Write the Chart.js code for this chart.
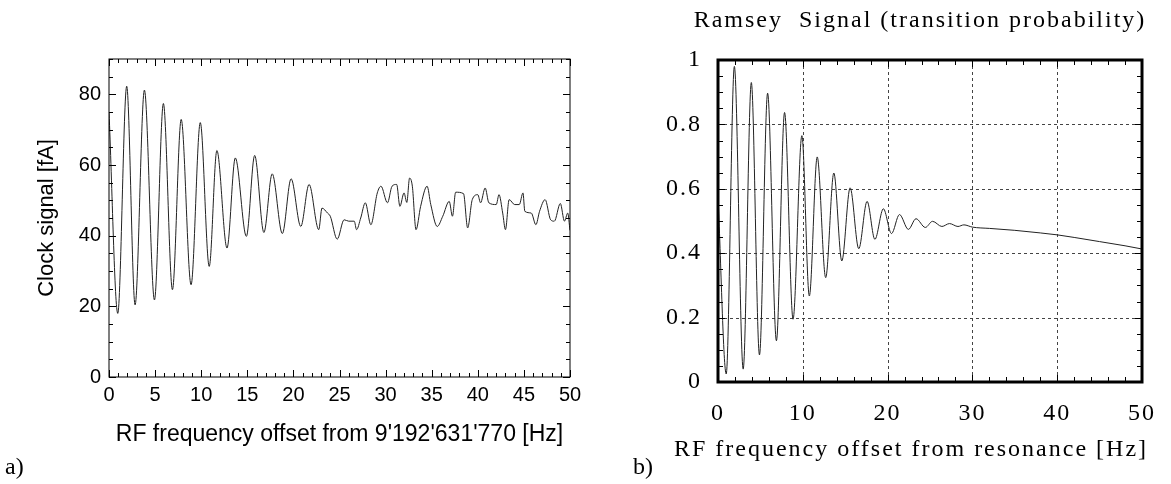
<!DOCTYPE html>
<html><head><meta charset="utf-8">
<script src="https://cdn.jsdelivr.net/npm/chart.js@4.4.1/dist/chart.umd.min.js"></script>
<style>
html,body{margin:0;padding:0;background:#fff;}
#wrap{position:relative;width:1171px;height:484px;overflow:hidden;}
.box{position:absolute;top:0;height:484px;}
</style></head><body>
<div id="wrap">
  <div class="box" style="left:0;width:600px"><canvas id="c1"></canvas></div>
  <div class="box" style="left:600px;width:571px"><canvas id="c2"></canvas></div>
</div>
<script>
// ---- Data: (a) measured clock signal ----
const clockX = [0,0.95,1.92,2.83,3.84,4.93,5.9,6.88,7.83,8.9,9.9,10.87,11.7,12.8,13.7,14.9,15.8,16.8,17.7,18.8,19.75,20.8,21.7,22.75,23.1,23.7,24.0,24.75,25.5,26.0,26.6,26.85,27.3,27.8,28.4,29.1,29.5,30.2,30.7,31.2,31.55,32.0,32.3,32.6,32.9,33.3,33.8,34.5,34.9,35.6,36.2,36.9,37.25,37.6,38.45,38.9,39.4,40.0,40.3,40.8,41.2,42.0,42.3,42.7,43.0,43.4,44.0,44.5,44.9,45.1,45.8,46.3,46.7,47.3,47.9,48.3,48.95,49.4,49.75,50];
const clockY = [75,18,82.3,20.4,81.2,21.8,77.4,24.7,72.9,26.1,72,31.3,64.1,36.5,62.0,39.8,62.7,40.9,57.5,40.6,56.1,42.6,54.5,41.7,47.8,46.4,45.5,39,44.5,44.1,44.1,41.7,45,49.3,43.1,52.1,54,49.3,54,54.5,48.3,52.1,49.4,56.3,54,41.7,48.3,54,48.8,42.6,45.5,49.7,45.5,52.3,51.9,42.2,50.2,51.6,49.3,53.5,49.3,48.8,51.6,46.4,41.7,50.2,48.8,48.8,52.1,46.9,46.4,43.1,46.9,50.2,44.5,44.1,49.1,44.1,46.4,41.5];
const clockXTicks = [0,5,10,15,20,25,30,35,40,45,50];
const clockYTicks = [0,20,40,60,80];

// ---- Data: (b) Ramsey signal ----
const ramseyX = [0,0.97,1.93,2.97,3.93,4.89,5.85,6.89,7.85,8.85,9.89,10.77,11.7,12.7,13.66,14.6,15.58,16.6,17.58,18.5,19.5,20.46,21.4,22.45,23.35,24.45,25.3,26.4,27.3,28.3,29.0,30,32,35,38,40,42,45,48,50];
const ramseyY = [0.58,0.025,0.98,0.04,0.93,0.084,0.897,0.128,0.837,0.195,0.765,0.267,0.699,0.324,0.649,0.376,0.603,0.414,0.561,0.443,0.538,0.461,0.52,0.474,0.507,0.48,0.499,0.483,0.492,0.483,0.488,0.481,0.477,0.471,0.463,0.457,0.449,0.436,0.423,0.413];
const ramseyXTicks = [0,10,20,30,40,50];
const ramseyYTicks = [0,0.2,0.4,0.6,0.8,1];
const ramseyYLabels = ['0','0.2','0.4','0.6','0.8','1'];

function range(a,b,s){const r=[];for(let v=a;v<=b+1e-9;v+=s)r.push(Math.round(v*1000)/1000);return r;}

const SANS = "'Liberation Sans', Arial, Helvetica, sans-serif";
const SERIF = "'Liberation Serif', 'Times New Roman', serif";

const framePlugin = {
  id: 'frame',
  beforeDatasetsDraw(chart, args, o) {
    if (!o.grid) return;
    const {ctx, chartArea: a, scales: {x, y}} = chart;
    ctx.save();
    ctx.strokeStyle = '#444'; ctx.lineWidth = 1; ctx.setLineDash([3,3]);
    ctx.beginPath();
    for (const v of o.grid.x) { const p = Math.round(x.getPixelForValue(v)) + 0.5; ctx.moveTo(p, a.top); ctx.lineTo(p, a.bottom); }
    for (const v of o.grid.y) { const p = Math.round(y.getPixelForValue(v)) + 0.5; ctx.moveTo(a.left, p); ctx.lineTo(a.right, p); }
    ctx.stroke();
    ctx.restore();
  },
  afterDatasetsDraw(chart, args, o) {
    const {ctx, chartArea: a, scales: {x, y}} = chart;
    ctx.save();
    ctx.strokeStyle = '#000'; ctx.lineWidth = 1; ctx.setLineDash([]);
    ctx.beginPath();
    for (const v of o.xMinor) {
      const p = Math.round(x.getPixelForValue(v)) + 0.5;
      const L = o.xMajor.some(m => Math.abs(m - v) < 1e-6) ? o.major : o.minor;
      ctx.moveTo(p, a.bottom); ctx.lineTo(p, a.bottom - L);
      ctx.moveTo(p, a.top); ctx.lineTo(p, a.top + L);
    }
    for (const v of o.yMinor) {
      const p = Math.round(y.getPixelForValue(v)) + 0.5;
      const L = o.yMajor.some(m => Math.abs(m - v) < 1e-6) ? o.major : o.minor;
      ctx.moveTo(a.left, p); ctx.lineTo(a.left + L, p);
      ctx.moveTo(a.right, p); ctx.lineTo(a.right - L, p);
    }
    ctx.stroke();
    ctx.lineWidth = o.border;
    ctx.strokeRect(a.left, a.top, a.right - a.left, a.bottom - a.top);
    ctx.restore();
  },
  afterDraw(chart, args, o) {
    const ctx = chart.ctx;
    ctx.save();
    ctx.fillStyle = '#000';
    for (const t of (o.texts || [])) {
      ctx.font = t.font;
      ctx.letterSpacing = t.ls || '0px';
      ctx.textAlign = t.align || 'center';
      ctx.textBaseline = 'middle';
      ctx.fillText(t.text, t.x, t.y);
    }
    ctx.restore();
  }
};

const spacingPlugin = {
  id: 'spacing',
  beforeDraw(chart, args, o) { chart.ctx.letterSpacing = o.ls || '0px'; }
};

// ---- Chart (a) ----
new Chart(document.getElementById('c1'), {
  type: 'line',
  data: { datasets: [{
    data: clockX.map((v, i) => ({x: v, y: clockY[i]})),
    borderColor: '#222', borderWidth: 1, pointRadius: 0,
    cubicInterpolationMode: 'monotone'
  }]},
  options: {
    responsive: true, maintainAspectRatio: false, animation: false,
    layout: { padding: { left: 0, right: 30, top: 59, bottom: 0 } },
    plugins: {
      legend: { display: false }, tooltip: { enabled: false },
      frame: {
        xMajor: clockXTicks, xMinor: range(0, 50, 1),
        yMajor: clockYTicks, yMinor: range(0, 90, 5),
        major: 7, minor: 4, border: 1,
        texts: [{text: 'a)', x: 5, y: 468, font: '24px ' + SERIF, align: 'left'}]
      }
    },
    scales: {
      x: {
        type: 'linear', min: 0, max: 50,
        afterBuildTicks: s => { s.ticks = clockXTicks.map(v => ({value: v})); },
        afterFit: s => { s.height = 107; },
        grid: { display: false, drawTicks: false }, border: { display: false },
        ticks: { color: '#000', font: { family: SANS, size: 20 }, padding: 6, maxRotation: 0, autoSkip: false },
        title: { display: true, text: "RF frequency offset from 9'192'631'770 [Hz]", color: '#000',
                 font: { family: SANS, size: 23 }, padding: { top: 0, bottom: 36 } }
      },
      y: {
        type: 'linear', min: 0, max: 90,
        afterBuildTicks: s => { s.ticks = clockYTicks.map(v => ({value: v})); },
        afterFit: s => { s.width = 109; },
        grid: { display: false, drawTicks: false }, border: { display: false },
        ticks: { color: '#000', font: { family: SANS, size: 20 }, padding: 8 },
        title: { display: true, text: 'Clock signal [fA]', color: '#000',
                 font: { family: SANS, size: 22 }, padding: { top: 34, bottom: 0 } }
      }
    }
  },
  plugins: [framePlugin]
});

// ---- Chart (b) ----
new Chart(document.getElementById('c2'), {
  type: 'line',
  data: { datasets: [{
    data: ramseyX.map((v, i) => ({x: v, y: ramseyY[i]})),
    borderColor: '#222', borderWidth: 1, pointRadius: 0,
    cubicInterpolationMode: 'monotone'
  }]},
  options: {
    responsive: true, maintainAspectRatio: false, animation: false,
    layout: { padding: { left: 0, right: 20, top: 60, bottom: 0 } },
    plugins: {
      legend: { display: false }, tooltip: { enabled: false },
      spacing: { ls: '2px' },
      frame: {
        grid: { x: [10, 20, 30, 40], y: [0.2, 0.4, 0.6, 0.8] },
        xMajor: ramseyXTicks, xMinor: range(0, 50, 2),
        yMajor: ramseyYTicks, yMinor: range(0, 1, 0.05),
        major: 7, minor: 5, border: 3,
        texts: [
          {text: 'Ramsey  Signal (transition probability)', x: 320, y: 21, font: '24px ' + SERIF, ls: '2px'},
          {text: 'RF frequency offset from resonance [Hz]', x: 311, y: 450, font: '24px ' + SERIF, ls: '2px'},
          {text: 'b)', x: 33, y: 468, font: '24px ' + SERIF, align: 'left'}
        ]
      }
    },
    scales: {
      x: {
        type: 'linear', min: 0, max: 50,
        afterBuildTicks: s => { s.ticks = ramseyXTicks.map(v => ({value: v})); },
        afterFit: s => { s.height = 102; },
        grid: { display: false, drawTicks: false }, border: { display: false },
        ticks: { color: '#000', font: { family: SERIF, size: 24 }, padding: 17, maxRotation: 0, autoSkip: false }
      },
      y: {
        type: 'linear', min: 0, max: 1,
        afterBuildTicks: s => { s.ticks = ramseyYTicks.map(v => ({value: v})); },
        afterFit: s => { s.width = 118; },
        grid: { display: false, drawTicks: false }, border: { display: false },
        ticks: { color: '#000', font: { family: SERIF, size: 24 }, padding: 16,
                 callback: (v) => { const i = ramseyYTicks.findIndex(t => Math.abs(t - v) < 1e-6); return i >= 0 ? ramseyYLabels[i] : ''; } }
      }
    }
  },
  plugins: [spacingPlugin, framePlugin]
});
</script>
</body></html>
